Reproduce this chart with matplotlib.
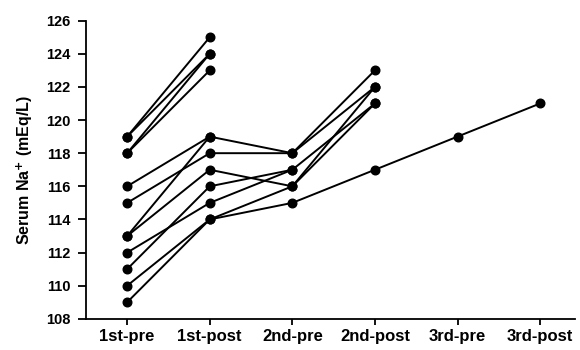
import matplotlib.pyplot as plt
import numpy as np

plt.rcParams.update({
    "font.family": ["Liberation Sans", "DejaVu Sans"],
    "font.weight": "bold",
    "font.size": 10,
})

stages = ["1st-pre", "1st-post", "2nd-pre", "2nd-post", "3rd-pre", "3rd-post"]
nan = np.nan

# serum Na+ per patient across the stages (nan = no value)
patient_a = [119, 125, nan, nan, nan, nan]
patient_b = [119, 124, nan, nan, nan, nan]
patient_c = [118, 124, nan, nan, nan, nan]
patient_d = [118, 123, nan, nan, nan, nan]
patient_e = [116, 119, 118, 123, nan, nan]
patient_f = [113, 119, nan, nan, nan, nan]
patient_g = [115, 118, 118, 122, nan, nan]
patient_h = [113, 117, 116, 122, nan, nan]
patient_i = [111, 116, 117, 121, nan, nan]
patient_j = [112, 115, 117, nan, nan, nan]
patient_k = [110, 114, 116, 121, nan, nan]
patient_l = [109, 114, 115, 117, 119, 121]

patients = [patient_a, patient_b, patient_c, patient_d, patient_e, patient_f,
            patient_g, patient_h, patient_i, patient_j, patient_k, patient_l]

fig = plt.figure(figsize=(5.8, 3.5), dpi=100)
ax = fig.add_axes([0.148, 0.089, 0.843, 0.852])

x = np.arange(len(stages))
for vals in patients:
    ax.plot(x, vals, color="black", linewidth=1.4, marker="o", markersize=6.2,
            clip_on=False)

ax.set_xlim(-0.5, 5.42)
ax.set_ylim(108, 126)
ax.set_yticks(np.arange(108, 127, 2))
ax.set_xticks(x)
ax.set_xticklabels(stages, fontsize=12)
ax.set_ylabel("Serum Na$^{+}$ (mEq/L)", fontsize=11.5, fontweight="bold", labelpad=8)

for side in ("top", "right"):
    ax.spines[side].set_visible(False)
for side in ("left", "bottom"):
    ax.spines[side].set_linewidth(1.3)
ax.tick_params(axis="y", direction="out", length=6, width=1.3, labelsize=10.5, pad=5)
ax.tick_params(axis="x", direction="out", length=4, width=1.3, pad=3)

fig.savefig("out.png", dpi=100)
